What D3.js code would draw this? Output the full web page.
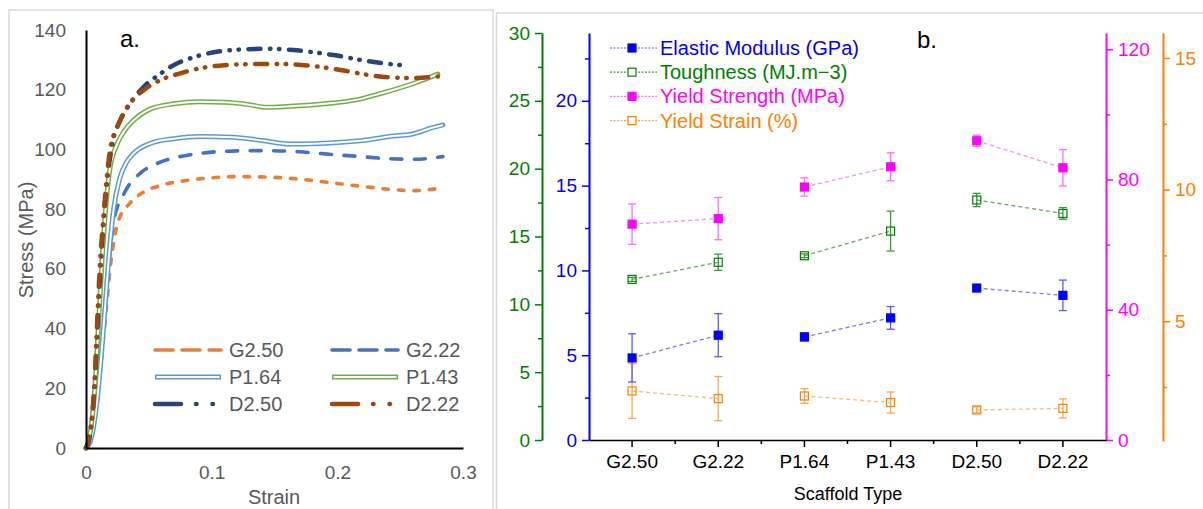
<!DOCTYPE html>
<html lang="en">
<head>
<meta charset="UTF-8">
<title>Scaffold mechanics</title>
<script src="https://cdn.jsdelivr.net/npm/d3@7/dist/d3.min.js"></script>
<style>
    body { margin: 0; background: #fff; }
    #chart svg { display: block; font-family: Arial, "Liberation Sans", sans-serif; }
</style>
</head>
<body>
<div id="chart"></div>
<script>
// ---- panel a: stress-strain curves, [strain, stress (MPa)]
const curveG250 = [[0,0],[0.004,3],[0.008,12],[0.012,28],[0.016,46],[0.02,63],[0.0255,75.7],[0.035,82],[0.045,85.5],[0.059,87.9],[0.08,89.6],[0.1,90.5],[0.12,90.9],[0.14,90.8],[0.16,90.4],[0.18,89.6],[0.2,88.6],[0.22,87.6],[0.24,86.7],[0.261,86.2],[0.272,86.5],[0.284,87.2]];
const curveG222 = [[0,0],[0.004,3],[0.008,13],[0.012,31],[0.016,51],[0.019,65],[0.022,76],[0.03,85],[0.043,92],[0.055,95],[0.065,96.6],[0.08,98],[0.1,99.1],[0.12,99.5],[0.144,99.6],[0.17,99.2],[0.19,98.5],[0.219,97.6],[0.24,96.9],[0.261,96.7],[0.284,97.6]];
const curveP164 = [[0,0],[0.004,3],[0.008,13],[0.012,30],[0.015,46],[0.018,63],[0.022,80],[0.027,90.5],[0.032,95.5],[0.0375,98.5],[0.051,102],[0.07,103.6],[0.091,104.3],[0.117,104.1],[0.14,103],[0.163,101.8],[0.18,101.9],[0.2,102.3],[0.22,103],[0.245,104.5],[0.258,105],[0.265,105.8],[0.275,107.2],[0.284,108.2]];
const curveP143 = [[0,0],[0.003,4],[0.007,20],[0.01,42],[0.0128,63],[0.016,82],[0.019,93.5],[0.025,102],[0.031,106.5],[0.038,109.8],[0.051,113.5],[0.07,115.3],[0.091,116],[0.11,115.8],[0.13,115],[0.144,114.1],[0.16,114.4],[0.19,115.3],[0.215,116.6],[0.235,118.8],[0.26,122],[0.28,125.2]];
const curveD250 = [[0,0],[0.003,4],[0.007,22],[0.01,48],[0.013,70],[0.016,86],[0.0215,103],[0.027,109.5],[0.033,114],[0.046,121],[0.058,125],[0.07,128.3],[0.085,130.8],[0.104,132.7],[0.125,133.5],[0.144,133.7],[0.165,133.3],[0.18,132.6],[0.197,131.6],[0.224,129.6],[0.24,128.7],[0.256,128]];
const curveD222 = [[0,0],[0.0024,3],[0.0064,19],[0.0093,46],[0.0104,56],[0.0136,76],[0.016,88],[0.019,99.5],[0.025,107.6],[0.031,113],[0.0375,116.7],[0.048,120.5],[0.059,123.2],[0.075,125.5],[0.091,127.2],[0.11,128.2],[0.136,128.6],[0.155,128.6],[0.171,128.3],[0.2,126.8],[0.224,125],[0.24,124.2],[0.259,123.9],[0.28,124.4]];
const curveNames = ['G2.50', 'G2.22', 'P1.64', 'P1.43', 'D2.50', 'D2.22'];
const strainTicks = [0, 0.1, 0.2, 0.3];
const stressTicks = [0, 20, 40, 60, 80, 100, 120, 140];

// ---- panel b: mechanical properties per scaffold type
const scaffoldTypes = ['G2.50', 'G2.22', 'P1.64', 'P1.43', 'D2.50', 'D2.22'];
const modulus = [4.84, 6.18, 6.08, 7.2, 8.96, 8.53];
const modulusErr = [1.42, 1.27, 0.24, 0.67, 0.1, 0.9];
const toughness = [11.84, 13.1, 13.58, 15.4, 17.69, 16.7];
const toughnessErr = [0.15, 0.6, 0.14, 1.47, 0.49, 0.43];
const yieldStrength = [66.3, 68.0, 77.7, 83.9, 91.9, 83.6];
const yieldStrengthErr = [6.2, 6.5, 2.8, 4.3, 1.7, 5.6];
const yieldStrain = [2.35, 2.06, 2.16, 1.91, 1.63, 1.69];
const yieldStrainErr = [1.04, 0.84, 0.28, 0.4, 0.12, 0.36];
const propertyNames = ['Elastic Modulus (GPa)', 'Toughness (MJ.m\u22123)', 'Yield Strength (MPa)', 'Yield Strain (%)'];

const Chart = () => {
    const W = 1203, H = 509;
    let svg;

    // styles for panel a curves
    const curveStyle = [
        { color: '#ED7D31', width: 3.6, dash: '5.5,10', legendDash: '18,9' },
        { color: '#4472C4', width: 3.6, dash: '11,12.5', legendDash: '18,9' },
        { color: '#5B9BD5', width: 5, double: true },
        { color: '#70AD47', width: 5, double: true },
        { color: '#264478', width: 4.5, dash: '12,9.5,0.5,8.5,0.5,9.5', legendDash: '26,15,0.5,16,0.5,15' },
        { color: '#9E480E', width: 4.5, dash: '12,9.5,0.5,8.5,0.5,9.5', legendDash: '26,15,0.5,16,0.5,15' }
    ];

    function frames() {
        svg.append('rect').attr('x', 9).attr('y', 10).attr('width', 484).attr('height', 520)
            .attr('fill', 'none').attr('stroke', '#d9d9d9').attr('stroke-width', 1.5);
        svg.append('rect').attr('x', 496.5).attr('y', 13).attr('width', 720).attr('height', 520)
            .attr('fill', 'none').attr('stroke', '#d9d9d9').attr('stroke-width', 1.5);
    }

    function panelA() {
        const g = svg.append('g');
        const x = d3.scaleLinear().domain([0, 0.3]).range([86, 463]);
        const y = d3.scaleLinear().domain([0, 140]).range([448, 30]);
        const curves = [curveG250, curveG222, curveP164, curveP143, curveD250, curveD222];

        const line = d3.line().x(d => x(d[0])).y(d => y(d[1])).curve(d3.curveMonotoneX);

        curves.forEach((c, i) => {
            const s = curveStyle[i];
            const p = g.append('path').datum(c)
                .attr('d', line)
                .attr('fill', 'none')
                .attr('stroke', s.color)
                .attr('stroke-width', s.width)
                .attr('stroke-linecap', 'round')
                .attr('stroke-linejoin', 'round');
            if (s.dash) p.attr('stroke-dasharray', s.dash);
            if (s.double) {
                g.append('path').datum(c).attr('d', line)
                    .attr('fill', 'none').attr('stroke', '#fff').attr('stroke-width', 2);
            }
        });

        // axes, Excel style: plain lines, no ticks
        const xAxis = g.append('g').attr('transform', `translate(0,${y(0)})`)
            .call(d3.axisBottom(x).tickValues(strainTicks).tickSize(0).tickPadding(18)
                .tickFormat(d => d === 0 ? '0' : d3.format('.1f')(d)));
        const yAxis = g.append('g').attr('transform', `translate(${x(0)},0)`)
            .call(d3.axisLeft(y).tickValues(stressTicks).tickSize(0).tickPadding(20));
        [xAxis, yAxis].forEach(a => {
            a.select('.domain').attr('stroke', '#000').attr('stroke-width', 2);
            a.selectAll('text').attr('fill', '#595959').style('font-size', '19px');
        });

        g.append('text').attr('transform', 'translate(33,240) rotate(-90)')
            .attr('text-anchor', 'middle').attr('fill', '#595959').style('font-size', '20px')
            .text('Stress (MPa)');
        g.append('text').attr('x', 274).attr('y', 504)
            .attr('text-anchor', 'middle').attr('fill', '#595959').style('font-size', '20px')
            .text('Strain');
        g.append('text').attr('x', 120).attr('y', 47).attr('fill', '#000').style('font-size', '24px').text('a.');

        // legend, two columns
        const lg = g.append('g');
        curveNames.forEach((name, i) => {
            const s = curveStyle[i];
            const col = i % 2, row = Math.floor(i / 2);
            const lx = 155 + col * 177, ly = 350 + row * 27;
            const p = lg.append('line').attr('x1', lx).attr('x2', lx + 66).attr('y1', ly).attr('y2', ly)
                .attr('stroke', s.color).attr('stroke-width', s.width).attr('stroke-linecap', 'round');
            if (s.legendDash) p.attr('stroke-dasharray', s.legendDash);
            if (s.double) {
                p.attr('stroke-linecap', 'butt');
                lg.append('line').attr('x1', lx + 1.5).attr('x2', lx + 64.5).attr('y1', ly).attr('y2', ly)
                    .attr('stroke', '#fff').attr('stroke-width', 2);
            }
            lg.append('text').attr('x', lx + 74).attr('y', ly + 7)
                .attr('fill', '#595959').style('font-size', '20px').text(name);
        });
    }

    function panelB() {
        const g = svg.append('g');
        const x = d3.scaleBand().domain(scaffoldTypes).range([589, 1106]);
        const cx = d => x(d) + x.bandwidth() / 2;

        const yMod = d3.scaleLinear().domain([0, 24]).range([440, 33]);
        const yTough = d3.scaleLinear().domain([0, 30]).range([440, 33]);
        const yYS = d3.scaleLinear().domain([0, 125]).range([440, 33]);
        const yStrain = d3.scaleLinear().domain([0.45, 15.95]).range([441, 33]);

        const colors = {
            mod: '#0000FF', tough: '#008000', ys: '#FF00FF', strain: '#FF8000'
        };
        const light = {
            mod: '#5a5aff', tough: '#3a9a3a', ys: '#ff6bff', strain: '#ffa64d'
        };

        // y axes: major + minor ticks
        function yAxis(scale, xPos, side, major, minor, color) {
            const ax = side === 'left' ? d3.axisLeft : d3.axisRight;
            const a = g.append('g').attr('transform', `translate(${xPos},0)`)
                .call(ax(scale).tickValues(major).tickSize(7).tickPadding(5).tickSizeOuter(0));
            a.select('.domain').attr('stroke', color).attr('stroke-width', 2);
            a.selectAll('.tick line').attr('stroke', color).attr('stroke-width', 1.5);
            a.selectAll('text').attr('fill', color).style('font-size', '19px');
            const m = g.append('g').attr('transform', `translate(${xPos},0)`)
                .call(ax(scale).tickValues(minor).tickSize(4).tickFormat('').tickSizeOuter(0));
            m.select('.domain').remove();
            m.selectAll('.tick line').attr('stroke', color).attr('stroke-width', 1.5);
        }
        yAxis(yTough, 542, 'left', [0, 5, 10, 15, 20, 25, 30], [2.5, 7.5, 12.5, 17.5, 22.5, 27.5], colors.tough);
        yAxis(yMod, 589, 'left', [0, 5, 10, 15, 20], [2.5, 7.5, 12.5, 17.5, 22.5], colors.mod);
        yAxis(yYS, 1106, 'right', [0, 40, 80, 120], [20, 60, 100], colors.ys);
        yAxis(yStrain, 1163, 'right', [5, 10, 15], [2.5, 7.5, 12.5], colors.strain);

        // category axis
        const xa = g.append('g').attr('transform', 'translate(0,440)')
            .call(d3.axisBottom(x).tickSize(7).tickPadding(8).tickSizeOuter(0));
        xa.select('.domain').attr('stroke', '#000').attr('stroke-width', 1.5);
        xa.selectAll('.tick line').attr('stroke', '#000').attr('stroke-width', 1.5);
        xa.selectAll('text').attr('fill', '#000').style('font-size', '19px');
        xa.selectAll('.minor').data(scaffoldTypes.slice(1)).enter().append('line')
            .attr('x1', d => x(d)).attr('x2', d => x(d)).attr('y1', 0).attr('y2', 4)
            .attr('stroke', '#000').attr('stroke-width', 1.5);

        g.append('text').attr('x', 848).attr('y', 500).attr('text-anchor', 'middle')
            .attr('fill', '#000').style('font-size', '18px').text('Scaffold Type');
        g.append('text').attr('x', 917).attr('y', 48).attr('fill', '#000').style('font-size', '24px').text('b.');

        const series = [
            { key: 'mod', vals: modulus, err: modulusErr, y: yMod, filled: true },
            { key: 'tough', vals: toughness, err: toughnessErr, y: yTough, filled: false },
            { key: 'ys', vals: yieldStrength, err: yieldStrengthErr, y: yYS, filled: true },
            { key: 'strain', vals: yieldStrain, err: yieldStrainErr, y: yStrain, filled: false }
        ];

        // draw order: bottom series first so filled markers sit on top
        [3, 1, 2, 0].forEach(si => {
            const s = series[si];
            const pts = scaffoldTypes.map((c, i) => ({ c, v: s.vals[i], e: s.err[i] }));
            const sg = g.append('g');
            // connecting dashed lines, paired by scaffold family
            for (let i = 0; i < pts.length; i += 2) {
                sg.append('line')
                    .attr('x1', cx(pts[i].c)).attr('y1', s.y(pts[i].v))
                    .attr('x2', cx(pts[i + 1].c)).attr('y2', s.y(pts[i + 1].v))
                    .attr('stroke', light[s.key]).attr('stroke-width', 1.3)
                    .attr('stroke-dasharray', '4,3').attr('opacity', 0.8);
            }
            // error bars
            const eb = sg.selectAll('.eb').data(pts).enter().append('g')
                .attr('stroke', light[s.key]).attr('stroke-width', 1.3);
            eb.append('line').attr('x1', d => cx(d.c)).attr('x2', d => cx(d.c))
                .attr('y1', d => s.y(d.v + d.e)).attr('y2', d => s.y(d.v - d.e));
            eb.append('line').attr('x1', d => cx(d.c) - 4).attr('x2', d => cx(d.c) + 4)
                .attr('y1', d => s.y(d.v + d.e)).attr('y2', d => s.y(d.v + d.e));
            eb.append('line').attr('x1', d => cx(d.c) - 4).attr('x2', d => cx(d.c) + 4)
                .attr('y1', d => s.y(d.v - d.e)).attr('y2', d => s.y(d.v - d.e));
            // markers
            sg.selectAll('.mk').data(pts).enter().append('rect')
                .attr('x', d => cx(d.c) - 4).attr('y', d => s.y(d.v) - 4)
                .attr('width', 8).attr('height', 8)
                .attr('fill', s.filled ? colors[s.key] : 'none')
                .attr('stroke', colors[s.key]).attr('stroke-width', 1.2);
        });

        // legend
        const lg = g.append('g');
        series.forEach((s, i) => {
            const ly = 48 + i * 24.2;
            lg.append('line').attr('x1', 610).attr('x2', 657).attr('y1', ly).attr('y2', ly)
                .attr('stroke', light[s.key]).attr('stroke-width', 1.2).attr('stroke-dasharray', '2,1.5');
            lg.append('rect').attr('x', 628).attr('y', ly - 4).attr('width', 8).attr('height', 8)
                .attr('fill', s.filled ? colors[s.key] : '#fff')
                .attr('stroke', colors[s.key]).attr('stroke-width', 1.2);
            lg.append('text').attr('x', 660).attr('y', ly + 7).attr('fill', colors[s.key])
                .style('font-size', '20px').text(propertyNames[i]);
        });
    }

    function init() {
        svg = d3.select('#chart').append('svg').attr('width', W).attr('height', H);
        svg.append('rect').attr('width', W).attr('height', H).attr('fill', '#fff');
        frames();
        panelA();
        panelB();
    }
    return { init };
};

const myChart = Chart();
myChart.init();
</script>
</body>
</html>
